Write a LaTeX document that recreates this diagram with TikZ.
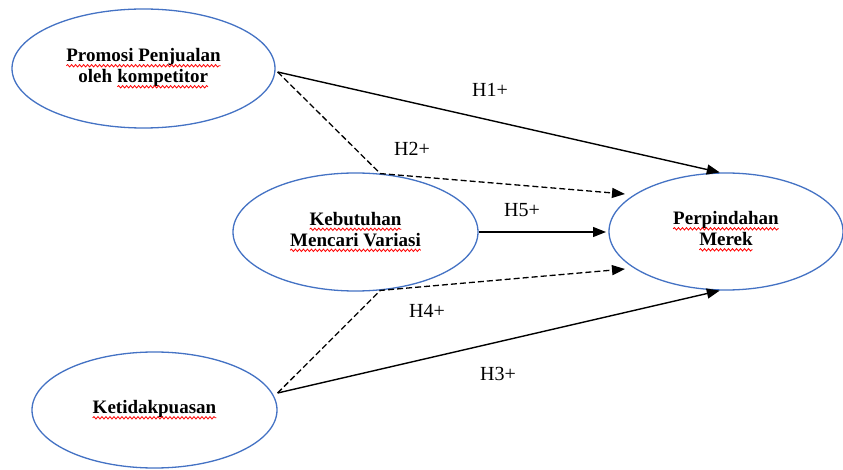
\documentclass[tikz,border=0pt]{standalone}
\usepackage{fontspec}
\setmainfont{Liberation Serif}
\usetikzlibrary{shapes.geometric,arrows.meta,decorations.pathmorphing}
\definecolor{ellblue}{RGB}{68,114,196}
\tikzset{
  ell/.style={ellipse, draw=ellblue, line width=1.3pt, inner sep=0pt, align=center,
    font=\fontsize{19}{21}\selectfont\bfseries},
  solidarrow/.style={draw=black, line width=1.4pt, -{Triangle[length=13pt,width=10pt]}},
  dasharrow/.style={draw=black, line width=1.3pt, dash pattern=on 6pt off 3pt, -{Triangle[length=13pt,width=10pt]}},
  lbl/.style={font=\fontsize{20}{22}\selectfont, inner sep=0pt},
  wavetext/.style={shape=rectangle, draw=none, fill=none, minimum width=0pt, minimum height=0pt,
    inner sep=0pt, outer sep=0pt, align=left},
  waveline/.style={draw=red, line width=0.8pt, solid, decorate,
    decoration={snake, amplitude=1.2pt, segment length=4pt}}
}
\newcommand\redwave[1]{\tikz[baseline=(wv.base)]{\node[wavetext] (wv) {#1};
  \draw[waveline] ([yshift=-4pt]wv.base west) -- ([yshift=-4pt]wv.base east);}}
\begin{document}
\begin{tikzpicture}[x=1pt,y=-1pt]
\useasboundingbox[fill=white] (0,0) rectangle (843,470);
% ellipses
\node[ell, minimum width=263pt, minimum height=119pt] (A) at (143.5,68.5)
  {\redwave{Promosi Penjualan}\\ oleh \redwave{kompetitor}};
\node[ell, minimum width=245pt, minimum height=118pt] (B) at (355.5,232)
  {\redwave{Kebutuhan}\\ \redwave{Mencari Variasi}};
\node[ell, minimum width=234pt, minimum height=117pt] (C) at (726,231.5)
  {\redwave{Perpindahan}\\ \redwave{Merek}};
\node[ell, minimum width=245pt, minimum height=116pt] (D) at (154.5,410)
  {\redwave{Ketidakpuasan}};
% free ends
\coordinate (h2end) at (625,194);
\coordinate (h5end) at (606,232);
\coordinate (h4end) at (625,269);
% connectors
\draw[solidarrow] ([xshift=2pt,yshift=-3.5pt]A.east) -- (C.96);
\draw[dasharrow] ([xshift=2pt,yshift=-3.5pt]A.east) -- (B.67) -- (h2end);
\draw[solidarrow] (B.east) -- (h5end);
\draw[dasharrow] ([yshift=17pt]D.east) -- (B.-67) -- (h4end);
\draw[solidarrow] ([yshift=17pt]D.east) -- (C.-96);
% labels
\node[lbl] (h1) at (490,90) {H1+};
\node[lbl] (h2) at (412,149) {H2+};
\node[lbl] (h5) at (522,210) {H5+};
\node[lbl] (h4) at (427,311) {H4+};
\node[lbl] (h3) at (498,374) {H3+};
\end{tikzpicture}
\end{document}
